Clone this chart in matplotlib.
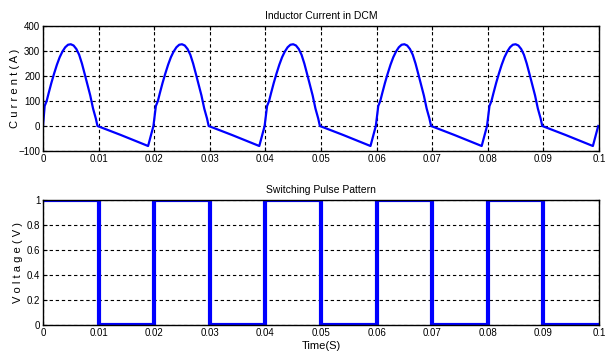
import matplotlib
matplotlib.use("Agg")
import matplotlib.pyplot as plt
import numpy as np
from matplotlib import font_manager

names = {f.name for f in font_manager.fontManager.ttflist}
fam = ['Liberation Sans Narrow', 'Liberation Sans', 'DejaVu Sans']
fam = [f for f in fam if f in names] or ['DejaVu Sans']
plt.rcParams['font.family'] = fam

# One period of the inductor current (phase in s, current in A)
period = 0.02
n_periods = 5
phase_pts = [0.0, 0.0003, 0.00066, 0.001, 0.0015, 0.002, 0.0025, 0.003, 0.0035,
             0.004, 0.0045, 0.005, 0.0055, 0.006, 0.0065, 0.007, 0.0075, 0.008,
             0.0085, 0.009, 0.0095, 0.0098, 0.0140, 0.0189, 0.01986]
current_pts = [0, 80, 100, 130, 172, 210, 245, 275, 298,
               315, 325, 327, 322, 308, 285, 250, 208, 165,
               122, 70, 30, 0, -36, -80, 0]

# Switching pulse: on/off state per half period
pulse_edges = [0.0, 0.01, 0.02, 0.03, 0.04, 0.05, 0.06, 0.07, 0.08, 0.09, 0.1]
pulse_state = [1, 0, 1, 0, 1, 0, 1, 0, 1, 0]

x_ticks = [0, 0.01, 0.02, 0.03, 0.04, 0.05, 0.06, 0.07, 0.08, 0.09, 0.1]
x_tick_labels = ['0', '0.01', '0.02', '0.03', '0.04', '0.05', '0.06', '0.07', '0.08', '0.09', '0.1']
i_ticks = [-100, 0, 100, 200, 300, 400]
v_ticks = [0, 0.2, 0.4, 0.6, 0.8, 1]
v_tick_labels = ['0', '0.2', '0.4', '0.6', '0.8', '1']

# build current series
t_cur, i_cur = [], []
for k in range(n_periods):
    for p, v in zip(phase_pts, current_pts):
        t = k * period + p
        if k > 0 and p == 0.0:
            continue
        if t <= 0.1 + 1e-9:
            t_cur.append(t)
            i_cur.append(v)
t_cur = np.array(t_cur)
i_cur = np.array(i_cur)

# build pulse series
t_p, v_p = [], []
for a, b, s in zip(pulse_edges[:-1], pulse_edges[1:], pulse_state):
    t_p += [a, b]
    v_p += [s, s]

fig = plt.figure(figsize=(6.08, 3.58), dpi=100)
W, H = 608, 358
ax1 = fig.add_axes([43 / W, 1 - 151 / H, 556 / W, 125 / H])
ax2 = fig.add_axes([43 / W, 1 - 325 / H, 556 / W, 125 / H])

blue = '#0000ff'
ax1.plot(t_cur, i_cur, color=blue, lw=1.6, solid_joinstyle='round')
ax2.plot(t_p, v_p, color=blue, lw=3.0, solid_joinstyle='miter')

for ax in (ax1, ax2):
    ax.set_xlim(0, 0.1)
    ax.set_xticks(x_ticks)
    ax.set_xticklabels(x_tick_labels)
    ax.grid(True, color='black', linestyle=(0, (3, 2.5)), linewidth=0.8)
    ax.tick_params(direction='in', top=True, right=True, labelsize=7, length=3, pad=2)
    for sp in ax.spines.values():
        sp.set_linewidth(1.0)

ax1.set_ylim(-100, 400)
ax1.set_yticks(i_ticks)
ax2.set_ylim(0, 1)
ax2.set_yticks(v_ticks)
ax2.set_yticklabels(v_tick_labels)

ax1.set_title('Inductor Current in DCM', fontsize=7.5, pad=5)
ax2.set_title('Switching Pulse Pattern', fontsize=7.5, pad=5)
ax1.set_ylabel('C u r r e n t ( A )', fontsize=8)
ax2.set_ylabel('V o l t a g e ( V )', fontsize=8)
ax1.yaxis.set_label_coords(-0.042, 0.5)
ax2.yaxis.set_label_coords(-0.036, 0.5)
ax2.set_xlabel('Time(S)', fontsize=8, labelpad=2)

fig.savefig('out.png', dpi=100)
